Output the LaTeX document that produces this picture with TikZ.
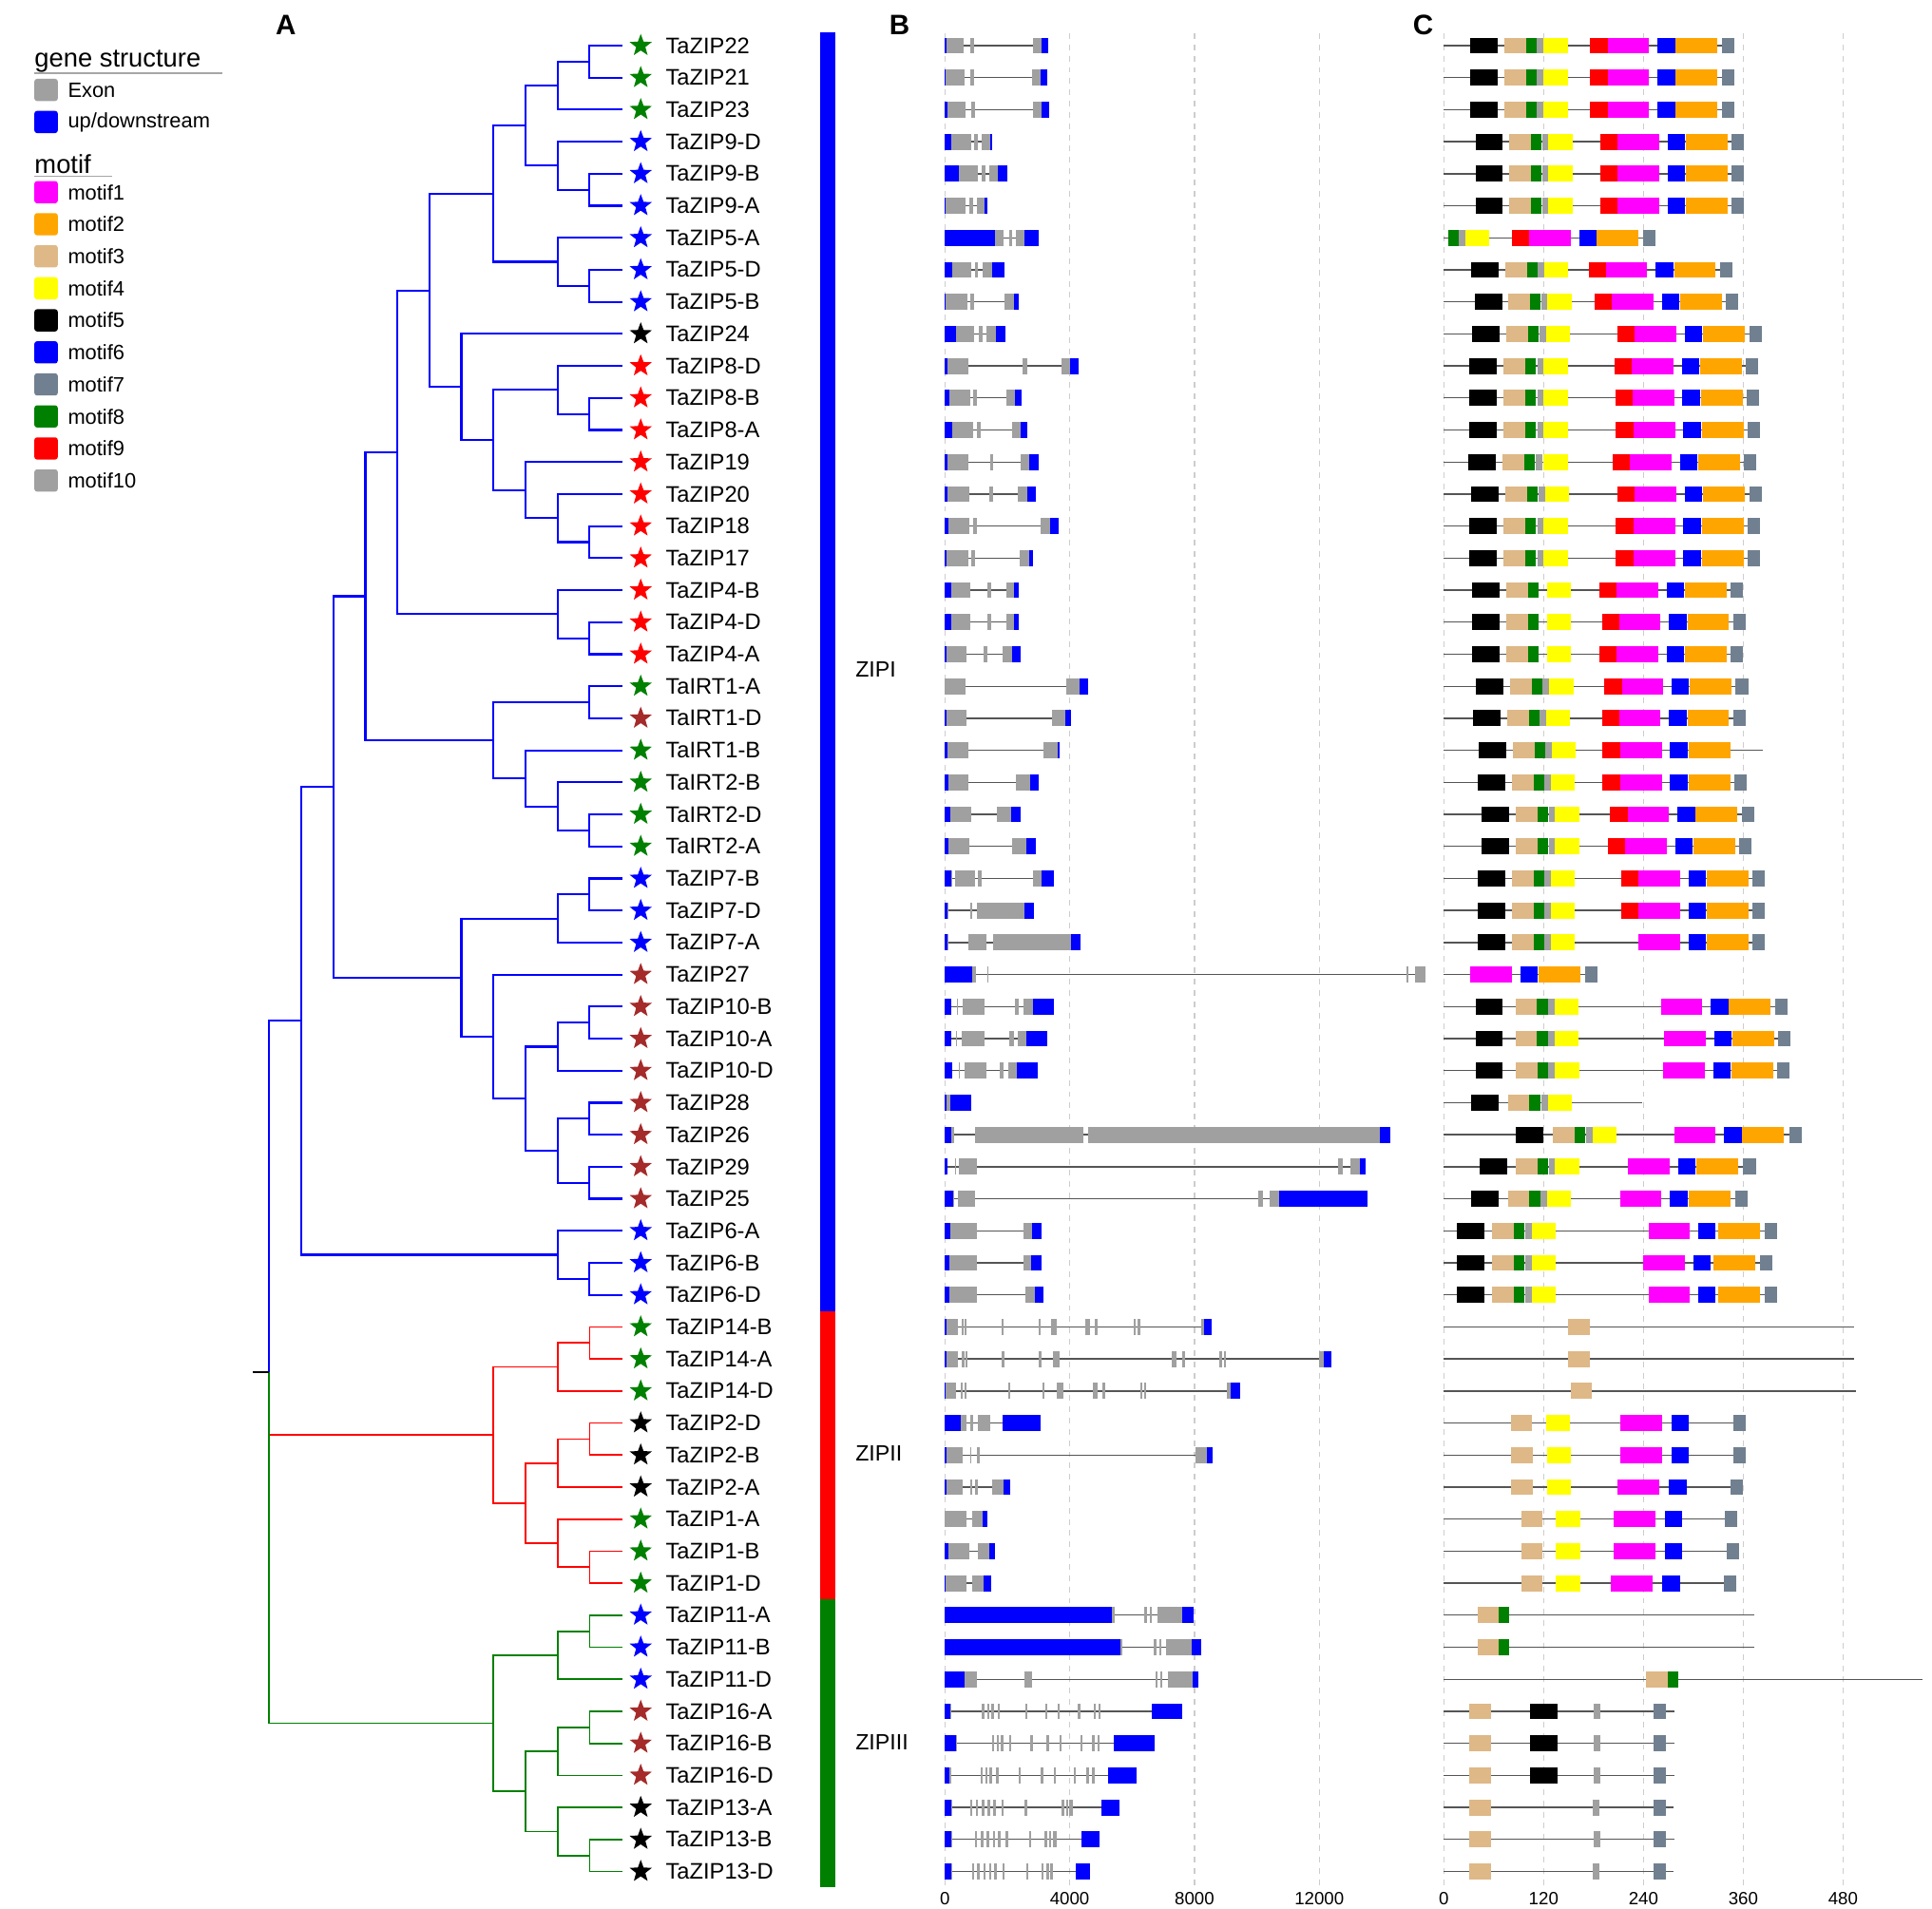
\documentclass[tikz,border=0pt]{standalone}
\usepackage{fontspec}
\setmainfont{Liberation Sans}
\usepackage{tikz}
\usetikzlibrary{shapes.geometric}
\definecolor{dgreen}{RGB}{0,128,0}
\definecolor{dbrown}{RGB}{165,42,42}
\definecolor{exg}{RGB}{160,160,160}
\definecolor{lineg}{RGB}{85,85,85}
\definecolor{gridg}{RGB}{205,205,205}
\definecolor{mot1}{RGB}{255,0,255}
\definecolor{mot2}{RGB}{255,165,0}
\definecolor{mot3}{RGB}{222,184,135}
\definecolor{mot4}{RGB}{255,255,0}
\definecolor{mot5}{RGB}{0,0,0}
\definecolor{mot6}{RGB}{0,0,255}
\definecolor{mot7}{RGB}{112,128,144}
\definecolor{mot8}{RGB}{0,128,0}
\definecolor{mot9}{RGB}{255,0,0}
\definecolor{mot10}{RGB}{160,160,160}
\newcommand\fsz[1]{\fontsize{#1}{#1}\selectfont}
\tikzstyle{tb}=[blue,line width=0.95pt]
\tikzstyle{tr}=[red,line width=0.75pt]
\tikzstyle{tg}=[dgreen,line width=0.75pt]
\tikzstyle{stn}=[star,star points=5,star point ratio=2.4,inner sep=0pt,minimum size=0.38cm]
\tikzstyle{lab}=[anchor=west,inner sep=0pt,font=\fsz{10.4}]
\tikzstyle{cls}=[anchor=west,inner sep=0pt,font=\fsz{10.2}]
\tikzstyle{pl}=[inner sep=0pt,font=\bfseries\fsz{13}]
\tikzstyle{hd}=[anchor=west,inner sep=0pt,font=\fsz{12}]
\tikzstyle{li}=[anchor=west,inner sep=0pt,font=\fsz{9.6}]
\tikzstyle{sq}=[rectangle,rounded corners=1.2pt,inner sep=0pt,minimum width=0.38cm,minimum height=0.36cm]
\tikzstyle{ax}=[inner sep=0pt,font=\fsz{8.2}]
\tikzstyle{grid}=[gridg,dashed,dash pattern=on 2.6pt off 2.6pt,line width=0.5pt]
\tikzstyle{intr}=[lineg,line width=0.6pt]
\tikzstyle{ex}=[fill=exg]
\tikzstyle{ud}=[fill=blue]

% gene structure row: row, end (kb), boxes a/b/style
\newcommand\gs[3]{%
  \draw[intr] (0,{37+26*#1}) -- (#2,{37+26*#1});
  \foreach \ga/\gb/\gc in {#3}
    \fill[\gc] (\ga,{37+26*#1-6.5}) rectangle (\gb,{37+26*#1+6.5});
}
% small exons
\newcommand\gt[2]{%
  \foreach \gp in {#2}
    \fill[ex] (\gp,{37+26*#1-6.5}) rectangle ++(0.07,13);
}
% motif row: row, end (aa), start/motif
\newcommand\mf[3]{%
  \draw[intr] (0,{37+26*#1}) -- (#2,{37+26*#1});
  \foreach \ms/\mn in {#3}{
    \pgfmathsetmacro\mw{{50,50,26,29,33,21,15,13,21,8}[\mn-1]}
    \fill[fill=mot\mn] (\ms,{37+26*#1-6.5}) rectangle ++(\mw,13);
  }
}

\begin{document}
\begin{tikzpicture}[x={(0.02cm,0)},y={(0,-0.02cm)}]
\useasboundingbox (0,0) rectangle (1568,1549);

% panel letters
\node[pl] (pa) at (232,20) {A};
\node[pl] (pb) at (730,20) {B};
\node[pl] (pc) at (1155,20) {C};

% legend
\node[hd] (lgs) at (27.8,50) {gene structure};
\draw[gray!70,line width=0.6pt] (27.8,59.4) -- (180.5,59.4);
\node[sq,fill=exg] (kex) at (37.4,73) {};
\node[li] (tex) at (54.8,73) {Exon};
\node[sq,fill=blue] (kud) at (37.4,99) {};
\node[li] (tud) at (54.8,99) {up/downstream};
\node[hd] (lmo) at (27.8,133) {motif};
\draw[gray!70,line width=0.6pt] (27.8,142.9) -- (90.8,142.9);
\foreach \k in {1,...,10}{
  \node[sq,fill=mot\k] (km\k) at (37.4,{156+26*(\k-1)}) {};
  \node[li] (tm\k) at (54.8,{156+26*(\k-1)}) {motif\k};
}

% leaves
\foreach \nm/\cl [count=\i from 0] in {TaZIP22/dgreen,TaZIP21/dgreen,TaZIP23/dgreen,
  TaZIP9-D/blue,TaZIP9-B/blue,TaZIP9-A/blue,TaZIP5-A/blue,TaZIP5-D/blue,TaZIP5-B/blue,
  TaZIP24/black,TaZIP8-D/red,TaZIP8-B/red,TaZIP8-A/red,TaZIP19/red,TaZIP20/red,
  TaZIP18/red,TaZIP17/red,TaZIP4-B/red,TaZIP4-D/red,TaZIP4-A/red,
  TaIRT1-A/dgreen,TaIRT1-D/dbrown,TaIRT1-B/dgreen,TaIRT2-B/dgreen,TaIRT2-D/dgreen,TaIRT2-A/dgreen,
  TaZIP7-B/blue,TaZIP7-D/blue,TaZIP7-A/blue,TaZIP27/dbrown,TaZIP10-B/dbrown,TaZIP10-A/dbrown,
  TaZIP10-D/dbrown,TaZIP28/dbrown,TaZIP26/dbrown,TaZIP29/dbrown,TaZIP25/dbrown,
  TaZIP6-A/blue,TaZIP6-B/blue,TaZIP6-D/blue,TaZIP14-B/dgreen,TaZIP14-A/dgreen,TaZIP14-D/dgreen,
  TaZIP2-D/black,TaZIP2-B/black,TaZIP2-A/black,TaZIP1-A/dgreen,TaZIP1-B/dgreen,TaZIP1-D/dgreen,
  TaZIP11-A/blue,TaZIP11-B/blue,TaZIP11-D/blue,TaZIP16-A/dbrown,TaZIP16-B/dbrown,TaZIP16-D/dbrown,
  TaZIP13-A/black,TaZIP13-B/black,TaZIP13-D/black}{
  \coordinate (lf\i) at (505,{37+26*\i});
  \node[stn,fill=\cl] (st\i) at (520,{37+26*\i}) {};
  \node[lab] (lb\i) at (540,{37+26*\i}) {\nm};
}

% tree nodes
\coordinate (ia) at (478.5,50);
\coordinate (ib) at (452.5,69.5);
\coordinate (ic) at (478.5,154);
\coordinate (id) at (452.5,134.5);
\coordinate (ie) at (426.5,102);
\coordinate (if) at (478.5,232);
\coordinate (ig) at (452.5,212.5);
\coordinate (ih) at (400.5,157.25);
\coordinate (ii) at (478.5,336);
\coordinate (ij) at (452.5,316.5);
\coordinate (ik) at (478.5,440);
\coordinate (il) at (452.5,420.5);
\coordinate (im) at (426.5,397.75);
\coordinate (in) at (400.5,357.1);
\coordinate (io) at (374.5,314.1);
\coordinate (ip) at (348.5,235.7);
\coordinate (iq) at (478.5,518);
\coordinate (ir) at (452.5,498.5);
\coordinate (is) at (322.5,367.1);
\coordinate (it) at (478.5,570);
\coordinate (iu) at (478.5,674);
\coordinate (iv) at (452.5,654.5);
\coordinate (iw) at (426.5,631.75);
\coordinate (ix) at (400.5,600.9);
\coordinate (iy) at (296.5,484);
\coordinate (iaa) at (478.5,726);
\coordinate (ibb) at (452.5,745.5);
\coordinate (icc) at (478.5,830);
\coordinate (idd) at (452.5,849.5);
\coordinate (iff) at (478.5,908);
\coordinate (iee) at (478.5,960);
\coordinate (igg) at (452.5,934);
\coordinate (ihh) at (426.5,891.75);
\coordinate (iii) at (400.5,841.4);
\coordinate (ijj) at (374.5,793.4);
\coordinate (ikk) at (270.5,638.7);
\coordinate (ill6) at (478.5,1038);
\coordinate (ill) at (452.5,1018.5);
\coordinate (imm) at (244.5,828.6);
\coordinate (root) at (218.5,1113.7);
\coordinate (rt0) at (205.4,1113.7);
\coordinate (rd1) at (478.5,1090);
\coordinate (rd2) at (452.5,1109.5);
\coordinate (rd3) at (478.5,1168);
\coordinate (rd4) at (452.5,1187.5);
\coordinate (rd5) at (478.5,1272);
\coordinate (rd6) at (452.5,1252.5);
\coordinate (rd7) at (426.5,1220);
\coordinate (rd8) at (400.5,1164.75);
\coordinate (gn1) at (478.5,1324);
\coordinate (gn2) at (452.5,1343.5);
\coordinate (gn3) at (478.5,1402);
\coordinate (gn4) at (452.5,1421.5);
\coordinate (gn5) at (478.5,1506);
\coordinate (gn6) at (452.5,1486.5);
\coordinate (gn7) at (426.5,1454);
\coordinate (gn8) at (400.5,1398.75);

% tree edges
\foreach \p/\c in {ia/lf0,ia/lf1,ib/ia,ib/lf2,ic/lf4,ic/lf5,id/lf3,id/ic,ie/ib,ie/id,
  if/lf7,if/lf8,ig/lf6,ig/if,ih/ie,ih/ig,ii/lf11,ii/lf12,ij/lf10,ij/ii,ik/lf15,ik/lf16,
  il/lf14,il/ik,im/lf13,im/il,in/ij,in/im,io/lf9,io/in,ip/ih,ip/io,iq/lf18,iq/lf19,
  ir/lf17,ir/iq,is/ip,is/ir,it/lf20,it/lf21,iu/lf24,iu/lf25,iv/lf23,iv/iu,iw/lf22,iw/iv,
  ix/it,ix/iw,iy/is,iy/ix,iaa/lf26,iaa/lf27,ibb/iaa,ibb/lf28,icc/lf30,icc/lf31,idd/icc,
  idd/lf32,iff/lf33,iff/lf34,iee/lf35,iee/lf36,igg/iff,igg/iee,ihh/idd,ihh/igg,iii/lf29,
  iii/ihh,ijj/ibb,ijj/iii,ikk/iy,ikk/ijj,ill6/lf38,ill6/lf39,ill/lf37,ill/ill6,imm/ikk,
  imm/ill,root/imm}
  \draw[tb] (\p) |- (\c);
\foreach \p/\c in {rd1/lf40,rd1/lf41,rd2/rd1,rd2/lf42,rd3/lf43,rd3/lf44,rd4/rd3,rd4/lf45,
  rd5/lf47,rd5/lf48,rd6/lf46,rd6/rd5,rd7/rd4,rd7/rd6,rd8/rd2,rd8/rd7,root/rd8}
  \draw[tr] (\p) |- (\c);
\foreach \p/\c in {gn1/lf49,gn1/lf50,gn2/gn1,gn2/lf51,gn3/lf52,gn3/lf53,gn4/gn3,gn4/lf54,
  gn5/lf56,gn5/lf57,gn6/lf55,gn6/gn5,gn7/gn4,gn7/gn6,gn8/gn2,gn8/gn7,root/gn8}
  \draw[tg] (\p) |- (\c);
\draw[black,line width=0.75pt] (rt0) -- (root);

% subfamily bar
\fill[blue] (665.6,26) rectangle (678,1064);
\fill[red] (665.6,1064) rectangle (678,1298);
\fill[dgreen] (665.6,1298) rectangle (678,1532);
\node[cls] (zi) at (694,543) {ZIPI};
\node[cls] (zii) at (694,1180) {ZIPII};
\node[cls] (ziii) at (694,1414) {ZIPIII};

% B: gene structure (kb)
\begin{scope}[xshift=15.34cm,x={(0.5066cm,0)}]
\foreach \g/\t in {0/0,4/4000,8/8000,12/12000}{
  \draw[grid] (\g,27) -- (\g,1532);
  \node[ax] (bx\g) at (\g,1541) {\t};
}
\gs{0}{3.31}{0/.04/ud,.04/.61/ex,.81/.95/ex,2.81/3.09/ex,3.09/3.31/ud}
\gs{1}{3.27}{0/.03/ud,.03/.63/ex,.80/.94/ex,2.79/3.08/ex,3.08/3.27/ud}
\gs{2}{3.33}{0/.07/ud,.07/.67/ex,.84/.98/ex,2.83/3.1/ex,3.1/3.33/ud}
\gs{3}{1.5}{0/.2/ud,.2/.84/ex,.95/1.07/ex,1.19/1.46/ex,1.46/1.5/ud}
\gs{4}{1.99}{0/.44/ud,.44/1.06/ex,1.17/1.29/ex,1.42/1.69/ex,1.69/1.99/ud}
\gs{5}{1.35}{0/.03/ud,.03/.65/ex,.78/.9/ex,1.02/1.27/ex,1.27/1.35/ud}
\gs{6}{3.0}{0/1.6/ud,1.6/1.87/ex,2.06/2.16/ex,2.28/2.56/ex,2.56/3.0/ud}
\gs{7}{1.92}{0/.23/ud,.23/.83/ex,.97/1.06/ex,1.21/1.5/ex,1.5/1.92/ud}
\gs{8}{2.37}{0/.03/ud,.03/.73/ex,.8/.93/ex,1.9/2.2/ex,2.2/2.37/ud}
\gs{9}{1.95}{0/.36/ud,.36/.95/ex,1.09/1.21/ex,1.34/1.64/ex,1.64/1.95/ud}
\gs{10}{4.3}{0/.07/ud,.07/.76/ex,2.5/2.63/ex,3.74/4.02/ex,4.02/4.3/ud}
\gs{11}{2.45}{0/.14/ud,.14/.8/ex,.9/1.03/ex,1.96/2.25/ex,2.25/2.45/ud}
\gs{12}{2.63}{0/.24/ud,.24/.92/ex,1.04/1.15/ex,2.15/2.43/ex,2.43/2.63/ud}
\gs{13}{3.0}{0/.07/ud,.07/.75/ex,1.45/1.56/ex,2.44/2.7/ex,2.7/3.0/ud}
\gs{14}{2.92}{0/.07/ud,.07/.78/ex,1.42/1.53/ex,2.35/2.64/ex,2.64/2.92/ud}
\gs{15}{3.64}{0/.1/ud,.1/.79/ex,.9/1.03/ex,3.07/3.36/ex,3.36/3.64/ud}
\gs{16}{2.83}{0/.05/ud,.05/.76/ex,.85/.98/ex,2.41/2.7/ex,2.7/2.83/ud}
\gs{17}{2.38}{0/.2/ud,.2/.82/ex,1.36/1.49/ex,1.96/2.23/ex,2.23/2.38/ud}
\gs{18}{2.38}{0/.2/ud,.2/.82/ex,1.36/1.49/ex,1.96/2.23/ex,2.23/2.38/ud}
\gs{19}{2.42}{0/.05/ud,.05/.7/ex,1.24/1.37/ex,1.85/2.14/ex,2.14/2.42/ud}
\gs{20}{4.6}{0/.65/ex,3.89/4.33/ex,4.33/4.6/ud}
\gs{21}{4.05}{0/.05/ud,.05/.69/ex,3.43/3.86/ex,3.86/4.05/ud}
\gs{22}{3.67}{0/.08/ud,.08/.74/ex,3.15/3.63/ex,3.63/3.67/ud}
\gs{23}{3.02}{0/.12/ud,.12/.75/ex,2.27/2.72/ex,2.72/3.02/ud}
\gs{24}{2.43}{0/.17/ud,.17/.84/ex,1.66/2.12/ex,2.12/2.43/ud}
\gs{25}{2.93}{0/.12/ud,.12/.77/ex,2.15/2.6/ex,2.6/2.93/ud}
\gs{26}{3.5}{0/.19/ud,.19/.22/ex,.34/.96/ex,1.05/1.19/ex,2.81/3.1/ex,3.1/3.5/ud}
\gs{27}{2.84}{0/.08/ud,.08/.12/ex,.8/.88/ex,1.03/2.54/ex,2.54/2.84/ud}
\gs{28}{4.35}{0/.08/ud,.08/.12/ex,.74/1.32/ex,1.55/4.03/ex,4.03/4.35/ud}
\gs{29}{15.39}{0/.88/ud,.88/1.0/ex,1.35/1.39/ex,14.78/14.85/ex,15.07/15.39/ex}
\gs{30}{3.49}{0/.2/ud,.39/.42/ex,.58/1.28/ex,2.24/2.37/ex,2.53/2.82/ex,2.82/3.49/ud}
\gs{31}{3.29}{0/.19/ud,.36/.39/ex,.54/1.26/ex,2.07/2.2/ex,2.34/2.62/ex,2.62/3.29/ud}
\gs{32}{2.98}{0/.24/ud,.44/.47/ex,.62/1.34/ex,1.75/1.88/ex,2.03/2.3/ex,2.3/2.98/ud}
\gs{33}{.84}{0/.05/ud,.05/.16/ex,.16/.84/ud}
\gs{34}{14.26}{0/.2/ud,.2/.3/ex,.97/4.44/ex,4.6/13.94/ex,13.94/14.26/ud}
\gs{35}{13.48}{0/.08/ud,.33/.36/ex,.46/1.03/ex,12.6/12.74/ex,13.0/13.3/ex,13.3/13.48/ud}
\gs{36}{13.55}{0/.26/ud,.26/.3/ex,.43/.98/ex,10.05/10.2/ex,10.4/10.7/ex,10.7/13.55/ud}
\gs{37}{3.1}{0/.17/ud,.17/1.03/ex,2.51/2.8/ex,2.8/3.1/ud}
\gs{38}{3.1}{0/.15/ud,.15/1.03/ex,2.51/2.76/ex,2.76/3.1/ud}
\gs{39}{3.16}{0/.13/ud,.13/1.02/ex,2.58/2.88/ex,2.88/3.16/ud}
\gs{40}{8.55}{0/.04/ud,.04/.41/ex,3.0/3.08/ex,3.4/3.6/ex,4.5/4.65/ex,4.8/4.9/ex,8.2/8.32/ex,8.32/8.55/ud}
\gt{40}{.53,.63,1.82,6.05,6.18}
\gs{41}{12.4}{0/.04/ud,.04/.43/ex,3.02/3.1/ex,3.45/3.67/ex,7.27/7.43/ex,7.59/7.69/ex,12.0/12.13/ex,12.13/12.4/ud}
\gt{41}{.55,.66,1.83,8.8,8.93}
\gs{42}{9.45}{0/.03/ud,.03/.37/ex,3.12/3.2/ex,3.57/3.8/ex,4.75/4.9/ex,5.05/5.14/ex,9.05/9.15/ex,9.15/9.45/ud}
\gt{42}{.5,.62,2.02,6.25,6.38}
\gs{43}{3.06}{0/.5/ud,.5/.7/ex,.8/.9/ex,1.07/1.46/ex,1.86/3.06/ud}
\gs{44}{8.58}{0/.05/ud,.05/.57/ex,.8/.84/ex,1.02/1.12/ex,8.04/8.4/ex,8.4/8.58/ud}
\gs{45}{2.09}{0/.05/ud,.05/.56/ex,.8/.88/ex,.98/1.07/ex,1.5/1.88/ex,1.88/2.09/ud}
\gs{46}{1.37}{0/.68/ex,.87/1.22/ex,1.22/1.37/ud}
\gs{47}{1.62}{0/.1/ud,.1/.78/ex,1.05/1.41/ex,1.41/1.62/ud}
\gs{48}{1.47}{0/.03/ud,.03/.69/ex,.87/1.25/ex,1.25/1.47/ud}
\gs{49}{7.96}{0/5.36/ud,5.36/5.43/ex,6.4/6.47/ex,6.56/6.64/ex,6.8/7.6/ex,7.6/7.96/ud}
\gs{50}{8.2}{0/5.62/ud,5.62/5.68/ex,6.7/6.77/ex,6.86/6.94/ex,7.1/7.9/ex,7.9/8.2/ud}
\gs{51}{8.13}{0/.63/ud,.63/1.03/ex,2.54/2.8/ex,6.74/6.81/ex,6.9/6.97/ex,7.14/7.93/ex,7.93/8.13/ud}
\gs{52}{7.6}{0/.17/ud,.17/.22/ex,6.62/7.6/ud}
\gt{52}{1.19,1.36,1.49,1.69,2.58,3.22,3.62,4.27,4.76,4.91}
\gs{53}{6.73}{0/.35/ud,.35/.4/ex,5.41/6.73/ud}
\gt{53}{1.52,1.66,1.8,2.05,2.74,3.26,3.67,4.34,4.72,4.89}
\gs{54}{6.13}{0/.14/ud,.14/.19/ex,5.23/6.13/ud}
\gt{54}{1.15,1.3,1.43,1.65,2.36,3.08,3.49,4.13,4.54,4.72}
\gs{55}{5.58}{0/.19/ud,.19/.24/ex,3.98/4.1/ex,5.02/5.58/ud}
\gt{55}{.82,.99,1.19,1.37,1.56,1.82,2.56,3.75,3.88}
\gs{56}{4.97}{0/.19/ud,.19/.24/ex,3.45/3.57/ex,4.38/4.97/ud}
\gt{56}{.97,1.16,1.34,1.53,1.71,1.95,2.7,3.2,3.34}
\gs{57}{4.66}{0/.2/ud,.2/.25/ex,3.36/3.46/ex,4.2/4.66/ud}
\gt{57}{.86,1.04,1.23,1.41,1.59,1.84,2.61,3.09,3.26}
\end{scope}

% C: motifs (aa)
\begin{scope}[xshift=23.44cm,x={(0.0135cm,0)}]
\foreach \g in {0,120,240,360,480}{
  \draw[grid] (\g,27) -- (\g,1532);
  \node[ax] (cx\g) at (\g,1541) {\g};
}
\foreach \r in {0,1,2}{
  \mf{\r}{349}{31.6/5,72.8/3,98.7/8,111.6/10,120/4,176/9,196.9/1,257/6,279/2,334/7}}
\foreach \r in {3,4,5}{
  \mf{\r}{361}{38/5,78.9/3,104.8/8,118/10,125.7/4,188/9,208.8/1,269/6,291/2,346/7}}
\mf{6}{254}{5/8,18/10,25.5/4,82/9,103/1,163/6,184/2,240/7}
\mf{7}{347}{32.8/5,74/3,99.8/8,112.8/10,120.8/4,174/9,194.7/1,254.9/6,277/2,332/7}
\mf{8}{353}{37/5,77.7/3,103.6/8,117/10,124.6/4,181/9,201.9/1,262/6,284/2,339/7}
\mf{9}{382}{34/5,75/3,101/8,115/10,123/4,209/9,229.7/1,290/6,312/2,367/7}
\mf{10}{377}{30.9/5,72/3,98/8,112.4/10,120/4,205/9,226/1,286/6,308/2,363/7}
\mf{11}{379}{30.9/5,72/3,98/8,112.4/10,120/4,206/9,227/1,287/6,309.7/2,364/7}
\foreach \r in {12,15,16}{
  \mf{\r}{380}{30.9/5,72/3,98/8,112.4/10,120/4,207/9,228/1,288/6,310.5/2,365/7}}
\mf{13}{375.6}{29.7/5,71/3,96.8/8,111/10,120/4,203/9,224/1,284/6,306/2,361/7}
\mf{14}{382}{32.8/5,74/3,99.8/8,114/10,122/4,209/9,229.7/1,290/6,312/2,367/7}
\foreach \r in {17,19}{
  \mf{\r}{360}{34/5,75/3,101/8,123.8/4,187/9,208/1,268/6,290/2,345/7}}
\mf{18}{363}{34/5,75/3,101/8,123.8/4,190/9,210.7/1,271/6,293/2,348/7}
\mf{20}{366}{38.9/5,80/3,105.9/8,119/10,126.9/4,193/9,214/1,274/6,296/2,351/7}
\mf{21}{363}{34.7/5,76/3,102/8,115/10,123/4,190/9,210.7/1,271/6,293/2,348/7}
\mf{22}{383}{41.9/5,83/3,109/8,122/10,130/4,191/9,212/1,272/6,294.5/2}
\mf{23}{364}{40.8/5,82/3,108/8,120.8/10,128.8/4,191/9,212/1,272/6,294.5/2,349/7}
\mf{24}{373}{45.7/5,87/3,112.8/8,126/10,133.7/4,200/9,221/1,281/6,303/2,358/7}
\mf{25}{370}{45.7/5,87/3,112.8/8,126/10,133.7/4,197/9,218/1,278/6,300/2,355/7}
\foreach \r in {26,27}{
  \mf{\r}{386}{40.8/5,82/3,108/8,121/10,128.8/4,213/9,234/1,294/6,316/2,371/7}}
\mf{28}{386}{40.8/5,82/3,108/8,121/10,128.8/4,234/1,294/6,316/2,371/7}
\mf{29}{185}{31.6/1,91.8/6,114/2,170/7}
\mf{30}{412.6}{38/5,86/3,112/8,125/10,133/4,261/1,321/6,343/2,398/7}
\mf{31}{416}{38/5,86/3,112/8,125/10,133/4,264.8/1,325/6,347/2,402/7}
\mf{32}{415.6}{38/5,87/3,112.8/8,125.7/10,133.7/4,264/1,324/6,346/2,401/7}
\mf{33}{239}{33/5,77/3,102.9/8,117/10,125/4}
\mf{34}{430}{86.9/5,131/3,157/8,171/10,179/4,277/1,337/6,359/2,415/7}
\mf{35}{374.5}{43/5,87/3,112.8/8,126/10,133.7/4,221.7/1,282/6,304/2,360/7}
\mf{36}{364}{33/5,77/3,102.9/8,116/10,124/4,211.8/1,272/6,294.5/2,350/7}
\foreach \r in {37,39}{
  \mf{\r}{400}{16/5,57.9/3,83.8/8,98/10,106/4,246/1,306/6,330/2,386/7}}
\mf{38}{394.7}{16/5,57.9/3,83.8/8,98/10,106/4,240/1,300/6,324/2,380/7}
\mf{40}{493}{149.3/3}
\mf{41}{493}{149.3/3}
\mf{42}{496}{152.4/3}
\mf{43}{362.7}{80.4/3,123/4,212/1,274/6,347.8/7}
\mf{44}{363}{81/3,123.8/4,212/1,274/6,348/7}
\mf{45}{360}{81/3,123.8/4,209/1,271/6,344.8/7}
\mf{46}{352}{93/3,135/4,204/1,266/6,338/7}
\mf{47}{354}{93/3,135/4,204/1,266/6,340/7}
\mf{48}{351}{93/3,135/4,201/1,263/6,336.8/7}
\mf{49}{373}{40.4/3,66/8}
\mf{50}{373}{40.4/3,66/8}
\mf{51}{576}{243.4/3,269/8}
\foreach \r in {52,53,54}{
  \mf{\r}{277}{31/3,104/5,180/10,252/7}}
\mf{55}{276}{31/3,179/10,252/7}
\mf{56}{277}{31/3,180/10,252/7}
\mf{57}{276}{31/3,179/10,252/7}
\end{scope}
\end{tikzpicture}
\end{document}
